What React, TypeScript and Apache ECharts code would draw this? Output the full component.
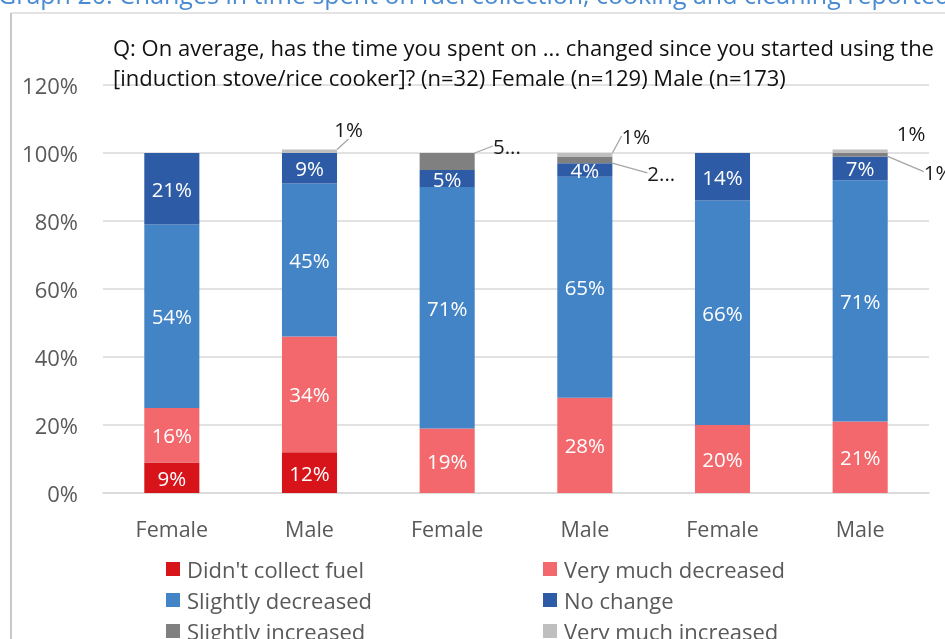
import React, { useEffect, useRef } from 'react';
import * as echarts from 'echarts';

const categories = ['Female', 'Male', 'Female', 'Male', 'Female', 'Male'];
const seriesNames = [
  "Didn't collect fuel",
  'Very much decreased',
  'Slightly decreased',
  'No change',
  'Slightly increased',
  'Very much increased',
];
const didntCollectFuel = [9, 12, 0, 0, 0, 0];
const veryMuchDecreased = [16, 34, 19, 28, 20, 21];
const slightlyDecreased = [54, 45, 71, 65, 66, 71];
const noChange = [21, 9, 5, 4, 14, 7];
const slightlyIncreased = [0, 0, 5, 2, 0, 1];
const veryMuchIncreased = [0, 1, 0, 1, 0, 1];
const seriesValues = [didntCollectFuel, veryMuchDecreased, slightlyDecreased, noChange, slightlyIncreased, veryMuchIncreased];
const seriesColors = ['#d7141a', '#f2686c', '#4384c6', '#2e5ba6', '#808080', '#bfbfbf'];
const legendLeft = ["Didn't collect fuel", 'Slightly decreased', 'Slightly increased'];
const legendRight = ['Very much decreased', 'No change', 'Very much increased'];

const headerText = 'Graph 20: Changes in time spent on fuel collection, cooking and cleaning reported';
const titleText =
  'Q: On average, has the time you spent on ... changed since you started using the\n[induction stove/rice cooker]? (n=32) Female (n=129) Male (n=173)';

// callout layout (series index, category index, leader geometry)
type Callout = { s: number; c: number; anchor: 'top' | 'right' | 'topRight'; ex: number; ey: number; len: number; line: boolean; truncated?: boolean };
const callouts: Callout[] = [
  { s: 5, c: 1, anchor: 'top', ex: 3, ey: -24, len: 10, line: true },
  { s: 4, c: 2, anchor: 'top', ex: 20, ey: -10, len: 14, line: true, truncated: true },
  { s: 5, c: 3, anchor: 'top', ex: 12, ey: -20, len: 13, line: true },
  { s: 4, c: 3, anchor: 'right', ex: 14, ey: 10, len: 12, line: true, truncated: true },
  { s: 4, c: 5, anchor: 'right', ex: 17, ey: 14, len: 10, line: true },
  { s: 5, c: 5, anchor: 'topRight', ex: 9, ey: -20, len: 0, line: false },
];

const FONT = '"Open Sans"';

function findCallout(s: number, c: number) {
  return callouts.find((k) => k.s === s && k.c === c);
}

export default function App() {
  const ref = useRef<HTMLDivElement>(null);
  useEffect(() => {
    if (!ref.current) return;
    const chart = echarts.init(ref.current, undefined, { renderer: 'svg' });
    const series = seriesNames.map((name, s) => ({
      name,
      type: 'bar',
      stack: 'total',
      barWidth: '40%',
      itemStyle: { color: seriesColors[s] },
      label: {
        show: true,
        position: 'inside',
        color: '#ffffff',
        fontFamily: FONT,
        fontSize: 20.5,
        formatter: (p: any) => `${p.value}%`,
      },
      labelLine: { show: s >= 4, lineStyle: { color: '#a6a6a6', width: 1.3 } },
      labelLayout: (params: any) => {
        const co = findCallout(params.seriesIndex, params.dataIndex);
        if (!co) return {};
        const r = params.rect;
        let ax = r.x + r.width * 0.55;
        let ay = r.y;
        if (co.anchor === 'right') {
          ax = r.x + r.width;
          ay = r.y + r.height / 2;
        } else if (co.anchor === 'topRight') {
          ax = r.x + r.width;
          ay = r.y;
        }
        const ex = ax + co.ex;
        const ey = ay + co.ey;
        const endX = ex + co.len;
        return {
          x: endX + (co.line ? 9 : 0),
          y: ey + 3,
          align: 'left',
          verticalAlign: 'middle',
          labelLinePoints: co.line
            ? [[ax, ay], [ex, ey], [endX, ey]]
            : [[ax, ay], [ax, ay], [ax, ay]],
        };
      },
      data: seriesValues[s].map((v, c) => {
        const co = findCallout(s, c);
        if (v === 0) return { value: v, label: { show: false }, labelLine: { show: false } };
        if (co) {
          return {
            value: v,
            label: {
              show: true,
              position: 'top',
              color: '#1a1a1a',
              fontSize: 20.5,
              formatter: co.truncated ? `${v}...` : `${v}%`,
            },
            labelLine: { show: co.line },
          };
        }
        return { value: v };
      }),
    }));

    const legendBase = {
      orient: 'vertical',
      top: 558,
      height: 120,
      padding: 0,
      itemWidth: 14,
      itemHeight: 14,
      itemGap: 9,
      icon: 'rect',
      selectedMode: false,
      textStyle: { color: '#595959', fontSize: 22, fontFamily: FONT, lineHeight: 21, padding: [0, 0, 0, 2] },
    };

    chart.setOption({
      animation: false,
      textStyle: { fontFamily: FONT },
      title: {
        text: titleText,
        left: 113,
        top: 32,
        padding: 0,
        textStyle: { fontFamily: FONT, fontSize: 22, fontWeight: 'normal', color: '#111111', lineHeight: 30 },
      },
      grid: { left: 103, right: 16, top: 85, bottom: 146, containLabel: false },
      xAxis: {
        type: 'category',
        data: categories,
        axisLine: { lineStyle: { color: '#d9d9d9', width: 1.5 } },
        axisTick: { show: false },
        axisLabel: { color: '#595959', fontSize: 21.5, fontFamily: FONT, margin: 24 },
      },
      yAxis: {
        type: 'value',
        min: 0,
        max: 120,
        interval: 20,
        axisLine: { show: false },
        axisTick: { show: false },
        splitLine: { lineStyle: { color: '#d9d9d9', width: 1.5 } },
        axisLabel: { color: '#595959', fontSize: 22, fontFamily: FONT, margin: 25, formatter: '{value}%' },
      },
      legend: [
        { ...legendBase, data: legendLeft, left: 166 },
        { ...legendBase, data: legendRight, left: 543 },
      ],
      graphic: [
        {
          type: 'text',
          left: -2,
          top: -19,
          style: { text: headerText, fill: '#4a8bd1', font: `25px ${FONT}` },
        },
        { type: 'line', shape: { x1: 11, y1: 13, x2: 945, y2: 13 }, style: { stroke: '#c8c8c8', lineWidth: 1.2 } },
        { type: 'line', shape: { x1: 11, y1: 13, x2: 11, y2: 639 }, style: { stroke: '#c8c8c8', lineWidth: 2 } },
      ],
      series,
    });
    return () => chart.dispose();
  }, []);
  return <div ref={ref} style={{ position: 'fixed', left: 0, top: 0, width: 945, height: 639 }} />;
}
